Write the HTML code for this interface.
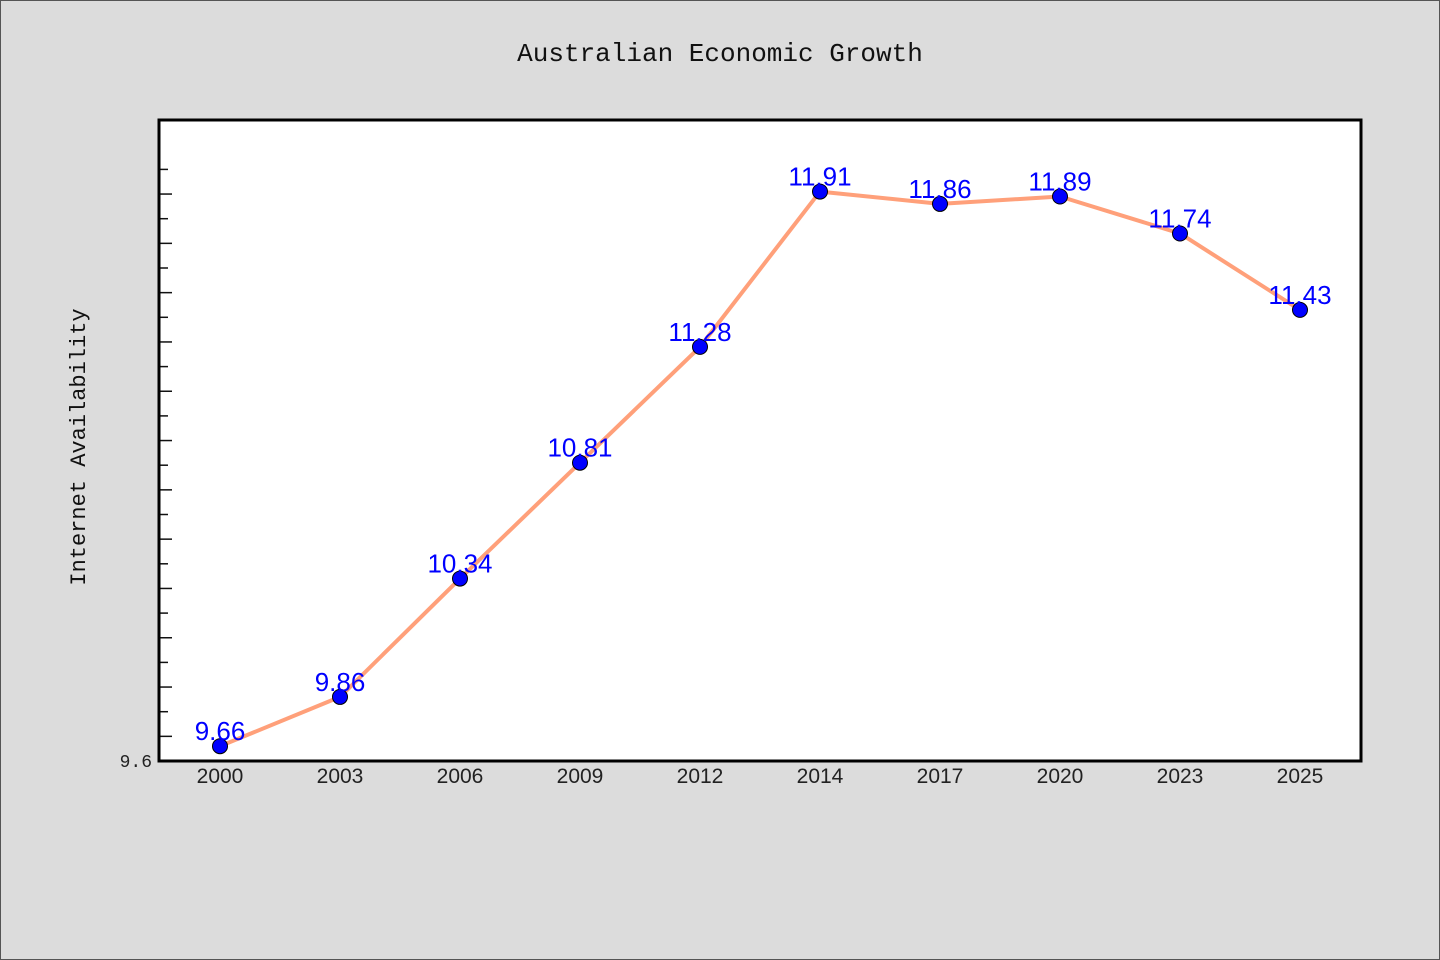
<!DOCTYPE html>
<html><head><meta charset="utf-8"><style>
html,body{margin:0;padding:0;background:#dcdcdc;}
svg{display:block}
</style></head><body>
<svg width="1440" height="960" xmlns="http://www.w3.org/2000/svg">
<rect x="0.5" y="0.5" width="1439" height="959" fill="#dcdcdc" stroke="#555"/>
<text x="720" y="61" text-anchor="middle" font-family="Liberation Mono, monospace" font-size="26" fill="#111">Australian Economic Growth</text>
<rect x="159" y="120" width="1202" height="641" fill="#fff"/>
<g id="ticks"></g>
<text transform="translate(85,447) rotate(-90)" text-anchor="middle" font-family="Liberation Mono, monospace" font-size="22" fill="#111">Internet Availability</text>
<g id="xl"></g>
<path id="line" fill="none" stroke="#FFA07A" stroke-width="4" stroke-linejoin="round"/>
<g id="pts"></g>
<rect x="159" y="120" width="1202" height="641" fill="none" stroke="#000" stroke-width="3"/>
</svg>
<script>
const categories = ["2000","2003","2006","2009","2012","2014","2017","2020","2023","2025"];
const values = [9.66,9.86,10.34,10.81,11.28,11.91,11.86,11.89,11.74,11.43];
const yMin = 9.6, yTickStep = 0.1, yTickCount = 25;
const yTickLabels = ["9.6"];
const NS="http://www.w3.org/2000/svg";
const x0=220, dx=120, yBase=761, pxPerUnit=246.5;
const X=i=>x0+i*dx;
const Y=v=>yBase-(v-yMin)*pxPerUnit;
function mk(t,a,p){const e=document.createElementNS(NS,t);for(const k in a)e.setAttribute(k,a[k]);p.appendChild(e);return e;}
const tg=document.getElementById('ticks');
for(let k=1;k<yTickCount;k++){
  const y=Y(yMin+k*yTickStep);
  if(y<125)break;
  const l=mk('line',{x1:160,x2:160+(k%2?12:8),y1:y,y2:y,stroke:'#111','stroke-width':1.5},tg);
  
  
}
const yl=mk('text',{x:152,y:Y(yMin)+6,'text-anchor':'end','font-family':'Liberation Mono, monospace','font-size':18,fill:'#222'},tg);
yl.textContent=yTickLabels[0];


const xg=document.getElementById('xl');
categories.forEach((c,i)=>{
  const t=mk('text',{x:X(i),y:783,'text-anchor':'middle','font-family':'Liberation Sans, sans-serif','font-size':21,fill:'#222'},xg);
  t.textContent=c;
  
  
});
document.getElementById('line').setAttribute('d',values.map((v,i)=>(i?'L':'M')+X(i)+','+Y(v)).join(' '));
const pg=document.getElementById('pts');
values.forEach((v,i)=>{
  const c=mk('circle',{cx:X(i),cy:Y(v),r:7.5,fill:'#0000ff',stroke:'#000','stroke-width':1},pg);
  
  
  const t=mk('text',{x:X(i),y:Y(v)-6,'text-anchor':'middle','font-family':'Liberation Sans, sans-serif','font-size':26,fill:'#0000ff'},pg);
  t.textContent=v.toFixed(2);
  
  
});
</script>
</body></html>
